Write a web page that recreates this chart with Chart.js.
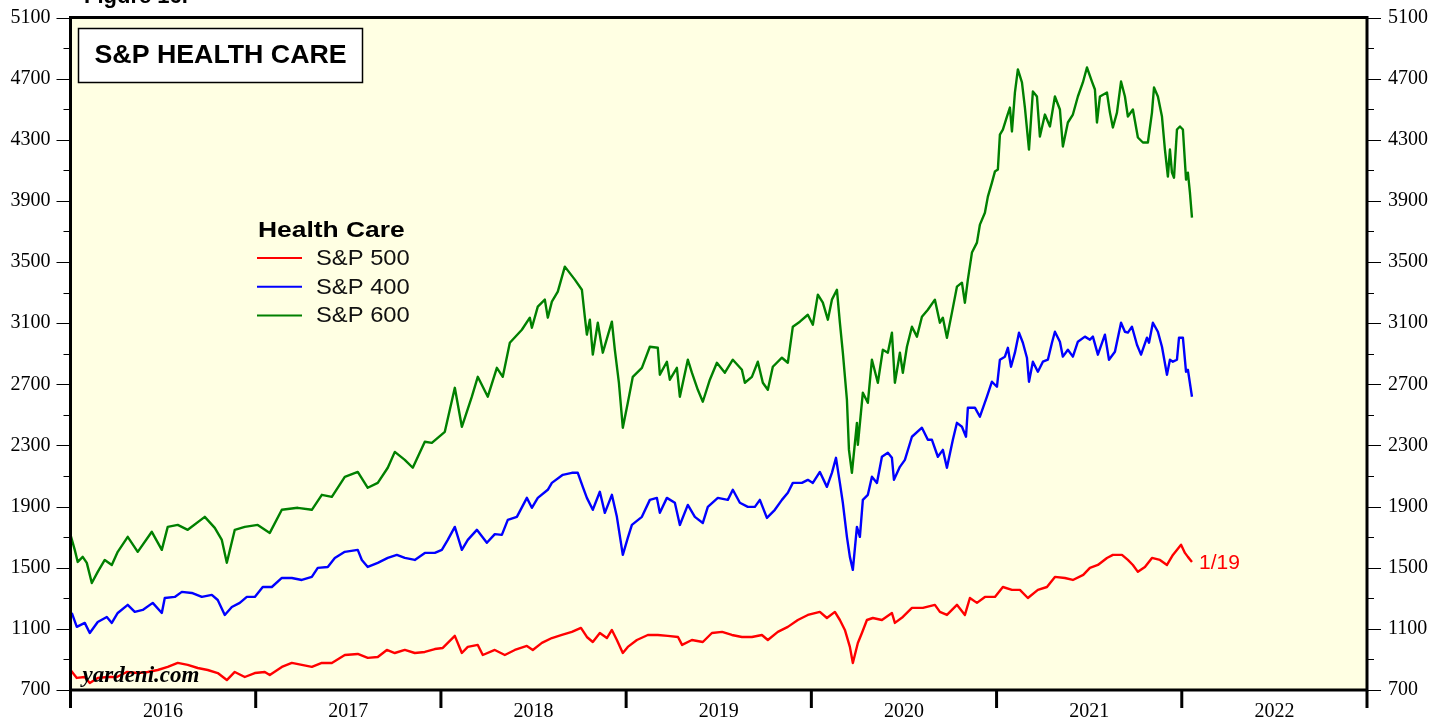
<!DOCTYPE html>
<html>
<head>
<meta charset="utf-8">
<title>S&amp;P Health Care</title>
<script src="https://cdn.jsdelivr.net/npm/chart.js@4.4.1/dist/chart.umd.min.js"></script>
<style>
  html, body { margin: 0; padding: 0; background: #fff; }
  canvas { display: block; }
</style>
</head>
<body>
<canvas id="healthCareChart" width="1448" height="723"></canvas>
<script>
// years on the x axis and labelled values on the y axes
const yearLabels = [2016, 2017, 2018, 2019, 2020, 2021, 2022];
const yTickLabels = [700, 1100, 1500, 1900, 2300, 2700, 3100, 3500, 3900, 4300, 4700, 5100];
const seriesNames = ['S&P 500', 'S&P 400', 'S&P 600'];
const lastDateLabel = '1/19';

// S&P 500 Health Care (dates as decimal years)
const sp500Dates = [2016.000, 2016.034, 2016.077, 2016.104, 2016.147, 2016.201, 2016.250, 2016.304, 2016.363, 2016.417,
  2016.471, 2016.525, 2016.579, 2016.633, 2016.687, 2016.741, 2016.795, 2016.844, 2016.887, 2016.941,
  2016.995, 2017.049, 2017.076, 2017.141, 2017.195, 2017.249, 2017.303, 2017.357, 2017.411, 2017.481,
  2017.551, 2017.605, 2017.659, 2017.708, 2017.751, 2017.805, 2017.859, 2017.913, 2017.967, 2018.010,
  2018.037, 2018.075, 2018.113, 2018.145, 2018.199, 2018.226, 2018.291, 2018.345, 2018.399, 2018.464,
  2018.496, 2018.545, 2018.599, 2018.653, 2018.707, 2018.756, 2018.788, 2018.820, 2018.858, 2018.896,
  2018.923, 2018.950, 2018.982, 2019.009, 2019.058, 2019.117, 2019.171, 2019.225, 2019.280, 2019.302,
  2019.355, 2019.414, 2019.463, 2019.518, 2019.571, 2019.625, 2019.679, 2019.733, 2019.765, 2019.819,
  2019.873, 2019.927, 2019.981, 2020.046, 2020.084, 2020.127, 2020.154, 2020.181, 2020.208, 2020.224,
  2020.251, 2020.273, 2020.300, 2020.332, 2020.381, 2020.435, 2020.451, 2020.494, 2020.543, 2020.602,
  2020.667, 2020.694, 2020.732, 2020.786, 2020.829, 2020.856, 2020.894, 2020.937, 2020.991, 2021.034,
  2021.083, 2021.126, 2021.169, 2021.223, 2021.272, 2021.315, 2021.369, 2021.412, 2021.468, 2021.504,
  2021.547, 2021.596, 2021.628, 2021.677, 2021.709, 2021.736, 2021.763, 2021.801, 2021.839, 2021.882,
  2021.920, 2021.952, 2021.996, 2022.017, 2022.033, 2022.055];
const sp500Values = [831, 779, 785, 746, 779, 785, 785, 818, 811, 818,
  831, 851, 877, 864, 844, 831, 811, 765, 818, 785,
  811, 818, 798, 851, 877, 864, 851, 877, 877, 929,
  936, 910, 916, 962, 942, 962, 942, 949, 968, 975,
  1008, 1054, 942, 982, 995, 929, 962, 929, 962, 988,
  962, 1008, 1040, 1060, 1080, 1106, 1047, 1014, 1073, 1040,
  1093, 1027, 942, 982, 1027, 1060, 1060, 1054, 1047, 995,
  1027, 1014, 1073, 1080, 1060, 1047, 1047, 1060, 1027, 1080,
  1113, 1158, 1191, 1211, 1171, 1211, 1158, 1093, 982, 877,
  1008, 1073, 1158, 1171, 1158, 1204, 1139, 1178, 1237, 1237,
  1257, 1211, 1191, 1257, 1191, 1302, 1270, 1309, 1309, 1374,
  1355, 1355, 1302, 1355, 1374, 1440, 1433, 1420, 1453, 1499,
  1518, 1564, 1584, 1584, 1551, 1518, 1473, 1505, 1564, 1551,
  1518, 1584, 1650, 1597, 1571, 1538];

// S&P 400 Health Care
const sp400Dates = [2016.007, 2016.034, 2016.077, 2016.104, 2016.147, 2016.196, 2016.223, 2016.255, 2016.309, 2016.347,
  2016.390, 2016.444, 2016.493, 2016.509, 2016.563, 2016.601, 2016.655, 2016.709, 2016.763, 2016.795,
  2016.833, 2016.871, 2016.914, 2016.952, 2016.995, 2017.038, 2017.087, 2017.141, 2017.195, 2017.249,
  2017.303, 2017.335, 2017.389, 2017.427, 2017.481, 2017.551, 2017.573, 2017.605, 2017.659, 2017.713,
  2017.762, 2017.805, 2017.859, 2017.913, 2017.967, 2018.005, 2018.037, 2018.075, 2018.113, 2018.145,
  2018.194, 2018.248, 2018.291, 2018.329, 2018.361, 2018.410, 2018.464, 2018.491, 2018.523, 2018.577,
  2018.599, 2018.658, 2018.707, 2018.739, 2018.766, 2018.788, 2018.820, 2018.858, 2018.885, 2018.923,
  2018.950, 2018.982, 2019.009, 2019.031, 2019.085, 2019.128, 2019.166, 2019.182, 2019.220, 2019.263,
  2019.290, 2019.333, 2019.371, 2019.414, 2019.441, 2019.495, 2019.549, 2019.576, 2019.614, 2019.657,
  2019.695, 2019.722, 2019.760, 2019.803, 2019.841, 2019.873, 2019.900, 2019.949, 2019.981, 2020.008,
  2020.046, 2020.084, 2020.111, 2020.133, 2020.154, 2020.170, 2020.192, 2020.208, 2020.224, 2020.246,
  2020.262, 2020.278, 2020.305, 2020.327, 2020.354, 2020.381, 2020.413, 2020.435, 2020.446, 2020.478,
  2020.505, 2020.543, 2020.597, 2020.629, 2020.651, 2020.683, 2020.710, 2020.732, 2020.764, 2020.786,
  2020.813, 2020.835, 2020.845, 2020.883, 2020.910, 2020.948, 2020.975, 2021.002, 2021.018, 2021.045,
  2021.061, 2021.078, 2021.099, 2021.121, 2021.142, 2021.164, 2021.175, 2021.196, 2021.223, 2021.250,
  2021.277, 2021.299, 2021.315, 2021.342, 2021.358, 2021.385, 2021.412, 2021.439, 2021.477, 2021.504,
  2021.520, 2021.547, 2021.585, 2021.607, 2021.639, 2021.672, 2021.693, 2021.709, 2021.731, 2021.758,
  2021.780, 2021.812, 2021.823, 2021.844, 2021.871, 2021.893, 2021.920, 2021.936, 2021.952, 2021.974,
  2021.985, 2022.006, 2022.023, 2022.033, 2022.055];
const sp400Values = [1204, 1113, 1139, 1073, 1145, 1178, 1139, 1204, 1257, 1211,
  1224, 1270, 1204, 1302, 1309, 1342, 1335, 1309, 1322, 1289,
  1191, 1243, 1270, 1309, 1309, 1374, 1374, 1433, 1433, 1420,
  1440, 1499, 1505, 1564, 1604, 1617, 1551, 1505, 1532, 1564,
  1584, 1564, 1551, 1597, 1597, 1617, 1682, 1767, 1617, 1682,
  1748, 1663, 1720, 1715, 1813, 1833, 1957, 1892, 1957, 2010,
  2055, 2108, 2121, 2121, 2029, 1957, 1879, 1997, 1859, 1977,
  1833, 1584, 1695, 1780, 1833, 1944, 1957, 1859, 1957, 1925,
  1780, 1911, 1833, 1793, 1898, 1957, 1944, 2010, 1925, 1898,
  1898, 1944, 1826, 1879, 1944, 1990, 2055, 2055, 2075, 2055,
  2127, 2029, 2121, 2219, 2055, 1925, 1702, 1571, 1486, 1767,
  1702, 1944, 1977, 2095, 2055, 2226, 2252, 2219, 2075, 2160,
  2206, 2357, 2416, 2337, 2337, 2226, 2271, 2154, 2337, 2448,
  2422, 2357, 2547, 2547, 2488, 2619, 2717, 2684, 2861, 2881,
  2939, 2815, 2907, 3038, 2972, 2874, 2717, 2848, 2782, 2848,
  2861, 2972, 3044, 2979, 2881, 2926, 2881, 2979, 3012, 2992,
  3012, 2894, 3025, 2861, 2913, 3103, 3044, 3038, 3077, 2959,
  2894, 3005, 2972, 3103, 3044, 2946, 2763, 2861, 2848, 2861,
  3005, 3005, 2782, 2795, 2619];

// S&P 600 Health Care
const sp600Dates = [2016.000, 2016.023, 2016.039, 2016.066, 2016.088, 2016.115, 2016.147, 2016.185, 2016.223, 2016.255,
  2016.309, 2016.363, 2016.439, 2016.493, 2016.525, 2016.579, 2016.633, 2016.725, 2016.779, 2016.817,
  2016.844, 2016.887, 2016.941, 2017.011, 2017.076, 2017.141, 2017.227, 2017.303, 2017.357, 2017.411,
  2017.481, 2017.551, 2017.605, 2017.659, 2017.713, 2017.751, 2017.805, 2017.848, 2017.913, 2017.951,
  2018.021, 2018.075, 2018.113, 2018.167, 2018.199, 2018.253, 2018.302, 2018.334, 2018.372, 2018.437,
  2018.480, 2018.491, 2018.523, 2018.561, 2018.577, 2018.599, 2018.631, 2018.669, 2018.723, 2018.761,
  2018.777, 2018.788, 2018.804, 2018.820, 2018.847, 2018.874, 2018.923, 2018.939, 2018.961, 2018.982,
  2019.009, 2019.036, 2019.085, 2019.128, 2019.171, 2019.182, 2019.220, 2019.236, 2019.274, 2019.290,
  2019.333, 2019.355, 2019.387, 2019.414, 2019.452, 2019.490, 2019.533, 2019.576, 2019.625, 2019.641,
  2019.679, 2019.711, 2019.738, 2019.765, 2019.792, 2019.841, 2019.873, 2019.900, 2019.938, 2019.981,
  2020.008, 2020.035, 2020.062, 2020.089, 2020.111, 2020.138, 2020.154, 2020.170, 2020.192, 2020.203,
  2020.219, 2020.246, 2020.251, 2020.278, 2020.305, 2020.327, 2020.359, 2020.386, 2020.413, 2020.435,
  2020.451, 2020.478, 2020.494, 2020.516, 2020.543, 2020.570, 2020.597, 2020.629, 2020.667, 2020.694,
  2020.710, 2020.732, 2020.759, 2020.786, 2020.813, 2020.829, 2020.845, 2020.867, 2020.894, 2020.910,
  2020.937, 2020.953, 2020.975, 2020.991, 2021.007, 2021.018, 2021.034, 2021.056, 2021.072, 2021.083,
  2021.099, 2021.115, 2021.137, 2021.153, 2021.175, 2021.196, 2021.218, 2021.234, 2021.261, 2021.288,
  2021.315, 2021.342, 2021.358, 2021.385, 2021.412, 2021.439, 2021.466, 2021.488, 2021.515, 2021.531,
  2021.542, 2021.558, 2021.596, 2021.612, 2021.628, 2021.650, 2021.672, 2021.693, 2021.709, 2021.736,
  2021.763, 2021.790, 2021.817, 2021.839, 2021.850, 2021.871, 2021.893, 2021.909, 2021.925, 2021.936,
  2021.947, 2021.958, 2021.974, 2021.990, 2022.006, 2022.023, 2022.033, 2022.044, 2022.055];
const sp600Values = [1715, 1617, 1538, 1571, 1532, 1400, 1473, 1551, 1518, 1604,
  1702, 1604, 1735, 1617, 1767, 1780, 1748, 1833, 1761, 1682,
  1532, 1748, 1767, 1780, 1728, 1879, 1892, 1879, 1977, 1964,
  2095, 2127, 2023, 2055, 2154, 2258, 2206, 2154, 2324, 2317,
  2389, 2677, 2422, 2619, 2749, 2619, 2808, 2749, 2972, 3057,
  3136, 3070, 3208, 3254, 3136, 3241, 3306, 3470, 3385, 3319,
  3142, 3025, 3123, 2894, 3103, 2907, 3110, 2926, 2710, 2416,
  2579, 2749, 2808, 2946, 2939, 2763, 2848, 2730, 2808, 2619,
  2861, 2776, 2664, 2586, 2730, 2841, 2776, 2861, 2795, 2710,
  2749, 2848, 2710, 2664, 2815, 2874, 2841, 3077, 3110, 3155,
  3090, 3287, 3234, 3123, 3254, 3319, 3103, 2907, 2599, 2271,
  2121, 2448, 2304, 2645, 2579, 2861, 2710, 2926, 2907, 3038,
  2710, 2907, 2776, 2946, 3077, 3012, 3142, 3188, 3254, 3103,
  3136, 3005, 3169, 3339, 3365, 3234, 3385, 3562, 3627, 3745,
  3823, 3928, 4020, 4092, 4105, 4334, 4367, 4452, 4511, 4354,
  4609, 4760, 4675, 4511, 4236, 4616, 4583, 4321, 4465, 4387,
  4583, 4498, 4256, 4413, 4465, 4583, 4675, 4773, 4681, 4629,
  4413, 4583, 4609, 4478, 4380, 4478, 4681, 4583, 4452, 4498,
  4315, 4282, 4282, 4478, 4642, 4583, 4452, 4236, 4059, 4236,
  4085, 4052, 4367, 4387, 4367, 4039, 4085, 3954, 3791];

const serif = "'Liberation Serif', 'Times New Roman', serif";
const sans = "'Liberation Sans', Arial, sans-serif";

function toPoints(dates, values) {
    return dates.map((d, i) => ({ x: d, y: values[i] }));
}

// text squeezed/stretched sideways to match the source lettering
function wideText(ctx, text, x, y, sx) {
    ctx.save();
    ctx.translate(x, y);
    ctx.scale(sx, 1);
    ctx.fillText(text, 0, 0);
    ctx.restore();
}

// background, frame, tick marks and the text boxes
const chartDecor = {
    id: 'chartDecor',
    beforeDraw(chart) {
        const { ctx, chartArea: a } = chart;
        ctx.save();
        ctx.fillStyle = '#ffffff';
        ctx.fillRect(0, 0, chart.width, chart.height);
        ctx.fillStyle = '#ffffe3';
        ctx.fillRect(a.left, a.top, a.right - a.left, a.bottom - a.top);
        ctx.restore();
    },
    afterDraw(chart) {
        const { ctx, chartArea: a, scales } = chart;
        const ys = scales.y;
        const xs = scales.x;
        ctx.save();
        ctx.strokeStyle = '#000';

        // y tick marks: long at the labelled values, short in between
        ctx.lineWidth = 1;
        for (let v = ys.min; v <= ys.max; v += 200) {
            const py = Math.round(ys.getPixelForValue(v)) + 0.5;
            const len = yTickLabels.includes(v) ? 14 : 7;
            ctx.beginPath();
            ctx.moveTo(a.left - len, py);
            ctx.lineTo(a.left, py);
            ctx.moveTo(a.right, py);
            ctx.lineTo(a.right + len, py);
            ctx.stroke();
        }

        // year boundary ticks below the frame
        ctx.lineWidth = 3;
        yearLabels.concat([yearLabels[yearLabels.length - 1] + 1]).forEach(yr => {
            const px = xs.getPixelForValue(yr);
            ctx.beginPath();
            ctx.moveTo(px, a.bottom);
            ctx.lineTo(px, a.bottom + 18);
            ctx.stroke();
        });

        // frame
        ctx.strokeRect(a.left, a.top, a.right - a.left, a.bottom - a.top);

        // title box
        ctx.fillStyle = '#fff';
        ctx.lineWidth = 1.5;
        ctx.fillRect(a.left + 8, a.top + 11, 284, 54);
        ctx.strokeRect(a.left + 8, a.top + 11, 284, 54);
        ctx.fillStyle = '#000';
        ctx.font = 'bold 25px ' + sans;
        ctx.textAlign = 'left';
        ctx.textBaseline = 'middle';
        wideText(ctx, 'S&P HEALTH CARE', a.left + 24, a.top + 39, 1.07);

        // legend
        ctx.font = 'bold 22px ' + sans;
        wideText(ctx, 'Health Care', 258, 231, 1.2);
        ctx.font = '22px ' + sans;
        chart.data.datasets.forEach((ds, i) => {
            const ly = 258 + i * 28.7;
            ctx.strokeStyle = ds.borderColor;
            ctx.lineWidth = 2;
            ctx.beginPath();
            ctx.moveTo(257, ly);
            ctx.lineTo(302, ly);
            ctx.stroke();
            ctx.fillStyle = '#111';
            wideText(ctx, ds.label, 316, ly + 1, 1.08);
        });

        // last date next to the S&P 500 line
        const meta = chart.getDatasetMeta(0);
        const last = meta.data[meta.data.length - 1];
        ctx.fillStyle = '#ff0000';
        ctx.font = '21px ' + sans;
        ctx.fillText(lastDateLabel, last.x + 7, last.y + 1);

        // source and figure caption
        ctx.fillStyle = '#000';
        ctx.font = 'italic bold 23px ' + serif;
        ctx.textBaseline = 'alphabetic';
        ctx.fillText('yardeni.com', a.left + 12, a.bottom - 8);
        ctx.font = 'bold 22px ' + sans;
        ctx.fillText('Figure 16.', 84, 3);
        ctx.restore();
    }
};

const yAxisBase = {
    min: 700,
    max: 5100,
    afterBuildTicks: (scale) => {
        scale.ticks = yTickLabels.map(v => ({ value: v }));
    },
    grid: { display: false, drawTicks: false },
    border: { display: false },
    ticks: {
        color: '#000',
        font: { family: serif, size: 20 },
        callback: (v) => String(v)
    }
};

const ctx = document.getElementById('healthCareChart').getContext('2d');
new Chart(ctx, {
    type: 'line',
    data: {
        datasets: [
            { label: seriesNames[0], data: toPoints(sp500Dates, sp500Values), borderColor: '#ff0000' },
            { label: seriesNames[1], data: toPoints(sp400Dates, sp400Values), borderColor: '#0000ff' },
            { label: seriesNames[2], data: toPoints(sp600Dates, sp600Values), borderColor: '#008000' }
        ]
    },
    options: {
        responsive: false,
        animation: false,
        devicePixelRatio: 1,
        layout: { padding: { top: 17.5, left: 0, right: 0, bottom: 0 } },
        elements: {
            line: { borderWidth: 2.4, tension: 0, borderJoinStyle: 'round' },
            point: { radius: 0 }
        },
        plugins: {
            legend: { display: false },
            tooltip: { enabled: false }
        },
        scales: {
            x: {
                type: 'linear',
                min: yearLabels[0],
                max: yearLabels[yearLabels.length - 1] + 1,
                afterBuildTicks: (scale) => {
                    scale.ticks = yearLabels.map(y => ({ value: y + 0.5 }));
                },
                afterFit: (scale) => {
                    scale.height = 33;
                    scale.paddingLeft = 0;
                    scale.paddingRight = 0;
                },
                grid: { display: false, drawTicks: false },
                border: { display: false },
                ticks: {
                    autoSkip: false,
                    maxRotation: 0,
                    padding: 10,
                    color: '#000',
                    font: { family: serif, size: 20 },
                    callback: (v, i) => String(yearLabels[i])
                }
            },
            y: Object.assign({}, yAxisBase, {
                position: 'left',
                afterFit: (scale) => {
                    scale.width = 70.5;
                    scale.paddingTop = 0;
                    scale.paddingBottom = 0;
                },
                ticks: Object.assign({}, yAxisBase.ticks, { padding: 20 })
            }),
            y2: Object.assign({}, yAxisBase, {
                position: 'right',
                afterFit: (scale) => {
                    scale.width = 81;
                    scale.paddingTop = 0;
                    scale.paddingBottom = 0;
                },
                ticks: Object.assign({}, yAxisBase.ticks, { padding: 21 })
            })
        }
    },
    plugins: [chartDecor]
});
</script>
</body>
</html>
